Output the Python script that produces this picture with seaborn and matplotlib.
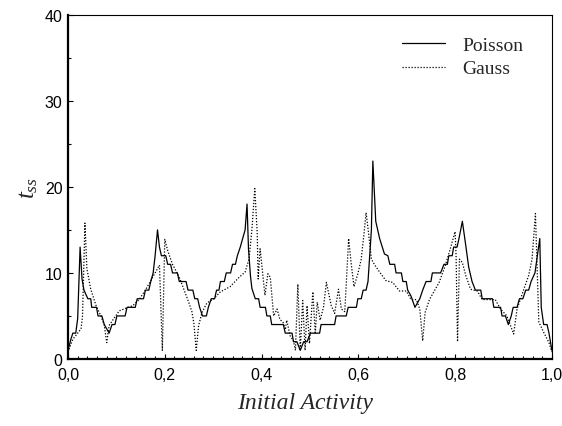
import numpy as np
import pandas as pd
import matplotlib
matplotlib.use("Agg")
import matplotlib.pyplot as plt
from matplotlib.ticker import MultipleLocator, FuncFormatter
import seaborn as sns

# Poisson curve (solid)
poisson_x = [0.000, 0.006, 0.010, 0.016, 0.020, 0.025, 0.029, 0.033, 0.041, 0.047,
             0.049, 0.059, 0.062, 0.070, 0.075, 0.085, 0.091, 0.097, 0.101, 0.118,
             0.122, 0.139, 0.143, 0.156, 0.160, 0.167, 0.171, 0.176, 0.180, 0.185,
             0.189, 0.193, 0.202, 0.206, 0.212, 0.216, 0.226, 0.230, 0.244, 0.248,
             0.258, 0.262, 0.268, 0.272, 0.278, 0.286, 0.290, 0.296, 0.303, 0.307,
             0.312, 0.315, 0.323, 0.327, 0.336, 0.340, 0.346, 0.350, 0.356, 0.361,
             0.366, 0.370, 0.373, 0.377, 0.380, 0.387, 0.394, 0.397, 0.408, 0.411,
             0.418, 0.421, 0.445, 0.449, 0.463, 0.466, 0.473, 0.480, 0.487, 0.494,
             0.501, 0.520, 0.523, 0.551, 0.554, 0.575, 0.579, 0.596, 0.599, 0.606,
             0.610, 0.616, 0.620, 0.623, 0.627, 0.630, 0.636, 0.644, 0.654, 0.661,
             0.665, 0.675, 0.678, 0.689, 0.692, 0.699, 0.702, 0.709, 0.717, 0.727,
             0.733, 0.740, 0.750, 0.753, 0.770, 0.777, 0.784, 0.787, 0.794, 0.797,
             0.804, 0.808, 0.815, 0.822, 0.828, 0.835, 0.842, 0.853, 0.856, 0.877,
             0.880, 0.894, 0.897, 0.904, 0.910, 0.916, 0.920, 0.928, 0.933, 0.940,
             0.946, 0.952, 0.957, 0.965, 0.975, 0.978, 0.983, 0.990, 0.994, 1.000]
poisson_y = [1.0, 2.3, 3.0, 3.0, 4.7, 13.0, 9.3, 8.0, 7.0, 7.0,
             6.0, 6.0, 5.0, 5.0, 4.0, 3.0, 4.0, 4.0, 5.0, 5.0,
             6.0, 6.0, 7.0, 7.0, 8.0, 8.0, 9.0, 10.0, 12.0, 15.0,
             13.0, 12.0, 12.0, 11.0, 11.0, 10.0, 10.0, 9.0, 9.0, 8.0,
             8.0, 7.0, 7.0, 6.0, 5.0, 5.0, 6.0, 7.0, 7.0, 8.0,
             8.0, 9.0, 9.0, 10.0, 10.0, 11.0, 11.0, 12.0, 13.0, 14.0,
             15.0, 18.0, 12.8, 9.7, 8.2, 7.0, 7.0, 6.0, 6.0, 5.0,
             5.0, 4.0, 4.0, 3.0, 3.0, 2.0, 2.0, 1.0, 2.0, 2.0,
             3.0, 3.0, 4.0, 4.0, 5.0, 5.0, 6.0, 6.0, 7.0, 7.0,
             8.0, 8.0, 9.0, 11.5, 15.0, 23.0, 16.0, 14.0, 12.2, 12.0,
             11.0, 11.0, 10.0, 10.0, 9.0, 9.0, 8.0, 7.3, 6.0, 7.0,
             8.0, 9.0, 9.0, 10.0, 10.0, 11.0, 11.0, 12.0, 12.0, 13.0,
             13.0, 14.0, 16.0, 13.2, 10.7, 9.0, 8.0, 8.0, 7.0, 7.0,
             6.0, 6.0, 5.0, 5.0, 4.0, 5.0, 6.0, 6.0, 7.0, 7.0,
             8.0, 8.0, 9.0, 10.0, 14.0, 6.0, 4.0, 4.0, 3.0, 1.0]

# Gauss curve (dotted)
gauss_x = [0.000, 0.010, 0.020, 0.027, 0.030, 0.035, 0.039, 0.047, 0.058, 0.068,
           0.075, 0.080, 0.085, 0.096, 0.106, 0.120, 0.134, 0.147, 0.161, 0.175,
           0.189, 0.195, 0.200, 0.206, 0.216, 0.230, 0.240, 0.250, 0.256, 0.260,
           0.265, 0.270, 0.277, 0.287, 0.301, 0.315, 0.335, 0.352, 0.366, 0.374,
           0.380, 0.386, 0.391, 0.393, 0.397, 0.400, 0.407, 0.413, 0.418, 0.425,
           0.432, 0.438, 0.445, 0.449, 0.452, 0.459, 0.466, 0.470, 0.475, 0.480,
           0.485, 0.490, 0.494, 0.499, 0.506, 0.511, 0.515, 0.521, 0.528, 0.534,
           0.544, 0.551, 0.559, 0.565, 0.572, 0.580, 0.585, 0.591, 0.599, 0.606,
           0.612, 0.616, 0.621, 0.627, 0.633, 0.644, 0.657, 0.671, 0.685, 0.699,
           0.709, 0.720, 0.727, 0.733, 0.738, 0.747, 0.767, 0.780, 0.790, 0.800,
           0.802, 0.805, 0.809, 0.815, 0.822, 0.832, 0.846, 0.856, 0.883, 0.894,
           0.907, 0.921, 0.928, 0.942, 0.952, 0.959, 0.966, 0.973, 0.983, 0.994,
           1.000]
gauss_y = [0.8, 2.3, 3.0, 3.5, 5.0, 15.8, 10.5, 8.1, 6.2, 5.0,
           3.9, 1.9, 3.9, 4.8, 5.6, 5.9, 6.2, 6.9, 8.1, 9.5,
           10.9, 1.0, 13.9, 12.6, 11.0, 9.5, 8.0, 6.5, 5.5, 4.2,
           1.0, 3.9, 5.4, 6.5, 7.0, 7.8, 8.4, 9.4, 10.1, 11.6,
           15.0, 19.8, 14.7, 9.3, 12.8, 11.2, 7.4, 9.9, 9.5, 5.0,
           5.8, 4.6, 4.2, 3.4, 4.5, 2.7, 2.1, 1.0, 8.7, 1.0,
           6.8, 1.0, 6.2, 1.8, 7.8, 2.9, 6.6, 4.5, 6.0, 8.9,
           6.2, 5.3, 8.1, 5.8, 5.5, 14.0, 11.2, 8.4, 9.9, 11.6,
           14.7, 17.0, 14.7, 11.6, 11.0, 10.1, 9.1, 8.9, 7.9, 7.9,
           6.9, 6.9, 5.8, 2.1, 5.4, 6.9, 8.9, 10.9, 12.8, 14.8,
           12.0, 2.0, 11.6, 11.2, 9.7, 8.1, 7.9, 6.9, 6.9, 5.8,
           5.0, 2.9, 5.8, 8.1, 9.7, 11.6, 16.9, 4.3, 3.1, 1.9,
           0.8]

x_ticks = [0.0, 0.2, 0.4, 0.6, 0.8, 1.0]
y_ticks = [0, 10, 20, 30, 40]

sns.set_style("ticks")
plt.rcParams['font.family'] = ['Liberation Sans', 'DejaVu Sans']
plt.rcParams['mathtext.fontset'] = 'custom'
plt.rcParams['mathtext.it'] = 'Liberation Serif:italic'
plt.rcParams['mathtext.rm'] = 'Liberation Serif'

df_p = pd.DataFrame({"x": poisson_x, "y": poisson_y})
df_g = pd.DataFrame({"x": gauss_x, "y": gauss_y})

fig = plt.figure(figsize=(5.62, 4.27), dpi=100)
ax = fig.add_axes([0.121, 0.157, 0.861, 0.806])

sns.lineplot(data=df_p, x="x", y="y", ax=ax, color="black", linewidth=0.9,
             estimator=None, sort=False, label="Poisson")
sns.lineplot(data=df_g, x="x", y="y", ax=ax, color="black", linewidth=0.9,
             estimator=None, sort=False, label="Gauss", dashes=False)
ax.lines[1].set_linestyle((0, (1.0, 1.4)))

ax.set_xlim(0, 1)
ax.set_ylim(0, 40)
ax.set_xticks(x_ticks)
ax.set_yticks(y_ticks)
ax.xaxis.set_minor_locator(MultipleLocator(0.02))
ax.yaxis.set_minor_locator(MultipleLocator(5))
ax.xaxis.set_major_formatter(FuncFormatter(lambda v, p: f"{v:.1f}".replace('.', ',')))
ax.tick_params(which='both', direction='in', top=False, right=False, labelsize=11.5,
               colors='black')
ax.tick_params(which='major', length=3.5, width=0.8)
ax.tick_params(which='minor', length=2.2, width=0.8)
ax.tick_params(axis='x', which='major', pad=5.5)
ax.tick_params(axis='y', which='major', pad=4)

for side in ['left', 'bottom']:
    ax.spines[side].set_linewidth(1.6)
for side in ['top', 'right']:
    ax.spines[side].set_linewidth(0.8)
    ax.spines[side].set_visible(True)
for s in ax.spines.values():
    s.set_color('black')

ax.set_xlabel("Initial Activity", fontsize=17, fontstyle='italic',
              family=['Liberation Serif', 'DejaVu Serif'])
ax.xaxis.set_label_coords(0.49, -0.127)
ax.xaxis.label.set_verticalalignment('center')
ax.set_ylabel(r"$t_{ss}$", fontsize=18)
ax.yaxis.set_label_coords(-0.083, 0.5)
ax.yaxis.label.set_verticalalignment('center')

leg = ax.legend(loc='center left', bbox_to_anchor=(0.69, 0.878), frameon=False,
                handlelength=2.2, handletextpad=0.9, labelspacing=0.3,
                borderpad=0, borderaxespad=0,
                prop={'family': ['Liberation Serif', 'DejaVu Serif'], 'size': 14})
for line in leg.get_lines():
    line.set_linewidth(0.9)

fig.savefig("out.png", dpi=100)
